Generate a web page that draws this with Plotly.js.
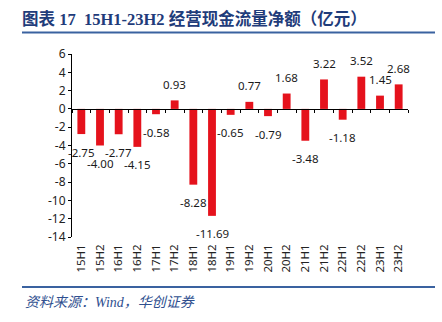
<!DOCTYPE html>
<html><head><meta charset="utf-8">
<script src="https://cdn.plot.ly/plotly-3.0.1.min.js"></script>
<style>html,body{margin:0;padding:0;background:#fff}#c{width:442px;height:322px}</style>
</head><body><div id="c"></div>
<script>
const categories = ["15H1","15H2","16H1","16H2","17H1","17H2","18H1","18H2","19H1","19H2","20H1","20H2","21H1","21H2","22H1","22H2","23H1","23H2"];
const values = [-2.75,-4.00,-2.77,-4.15,-0.58,0.93,-8.28,-11.69,-0.65,0.77,-0.79,1.68,-3.48,3.22,-1.18,3.52,1.45,2.68];
const yTicks = [6,4,2,0,-2,-4,-6,-8,-10,-12,-14];
const titleText = "图表 17\u00A0\u00A015H1-23H2 经营现金流量净额（亿元）";
const sourceText = "资料来源：Wind，华创证券";

const W = 442, H = 322, L = 72, R = 408, T = 54, B = 237;
const px2x = p => (p - L) / (R - L);
const px2y = p => (B - p) / (B - T);
const labelFont = {family: "Noto Sans, Liberation Sans, sans-serif", size: 11.5, color: "#1a1a1a"};

const annotations = values.map((v, i) => ({
  x: categories[i], y: v, xref: "x", yref: "y",
  text: v.toFixed(2), showarrow: false,
  xanchor: "center", yanchor: "middle",
  yshift: v >= 0 ? 16 : -18,
  font: labelFont
}));
annotations.push({
  xref: "paper", yref: "paper", x: px2x(23), y: px2y(302),
  xanchor: "left", yanchor: "middle", showarrow: false,
  text: "<i>" + sourceText + "</i>",
  font: {family: "Liberation Serif, Noto Sans CJK SC, serif", size: 14, color: "#2F4F8F"}
});

const data = [
  {type: "bar", x: categories, y: values, marker: {color: "#E5121C"}, width: 0.42, hoverinfo: "none"},
  {type: "scatter", x: categories, y: values.map(() => null), xaxis: "x2", yaxis: "y", showlegend: false, hoverinfo: "none"}
];

const layout = {
  width: W, height: H,
  margin: {l: L, r: W - R, t: T, b: H - B},
  paper_bgcolor: "#fff", plot_bgcolor: "#fff",
  showlegend: false,
  title: {
    text: "<b>" + titleText + "</b>",
    xref: "container", yref: "container",
    x: 22 / W, xanchor: "left", y: 1 - 19.5 / H, yanchor: "middle",
    font: {family: "Liberation Serif, Noto Sans CJK SC, serif", size: 16.5, color: "#1F3C7A"}
  },
  xaxis: {
    type: "category", categoryarray: categories, range: [-0.5, 17.5],
    showline: false, showgrid: false, zeroline: false, ticks: "",
    tickangle: -90, tickfont: {family: "Noto Sans, Liberation Sans, sans-serif", size: 11.5, color: "#222"},
    ticklabelstandoff: 4
  },
  xaxis2: {
    type: "category", categoryarray: categories, range: [-0.5, 17.5],
    overlaying: "x", anchor: "free", position: px2y(108.5),
    showline: true, linecolor: "#000", linewidth: 1,
    ticks: "outside", tickson: "boundaries", ticklen: 3, tickcolor: "#000",
    showticklabels: false, showgrid: false, zeroline: false
  },
  yaxis: {
    range: [-14, 6], tickvals: yTicks, ticktext: yTicks.map(String),
    showline: true, linecolor: "#000", linewidth: 1,
    ticks: "outside", ticklen: 3, tickcolor: "#000",
    showgrid: false, zeroline: false,
    tickfont: {family: "Noto Sans, Liberation Sans, sans-serif", size: 12, color: "#222"}
  },
  annotations: annotations,
  shapes: [
    {type: "line", xref: "paper", yref: "paper", x0: px2x(22), x1: px2x(435), y0: px2y(32.5), y1: px2y(32.5), line: {color: "#3A62A0", width: 2}},
    {type: "line", xref: "paper", yref: "paper", x0: px2x(22), x1: px2x(435), y0: px2y(287), y1: px2y(287), line: {color: "#3A62A0", width: 2}}
  ]
};

Plotly.newPlot("c", data, layout, {staticPlot: true, displayModeBar: false});
</script></body></html>
